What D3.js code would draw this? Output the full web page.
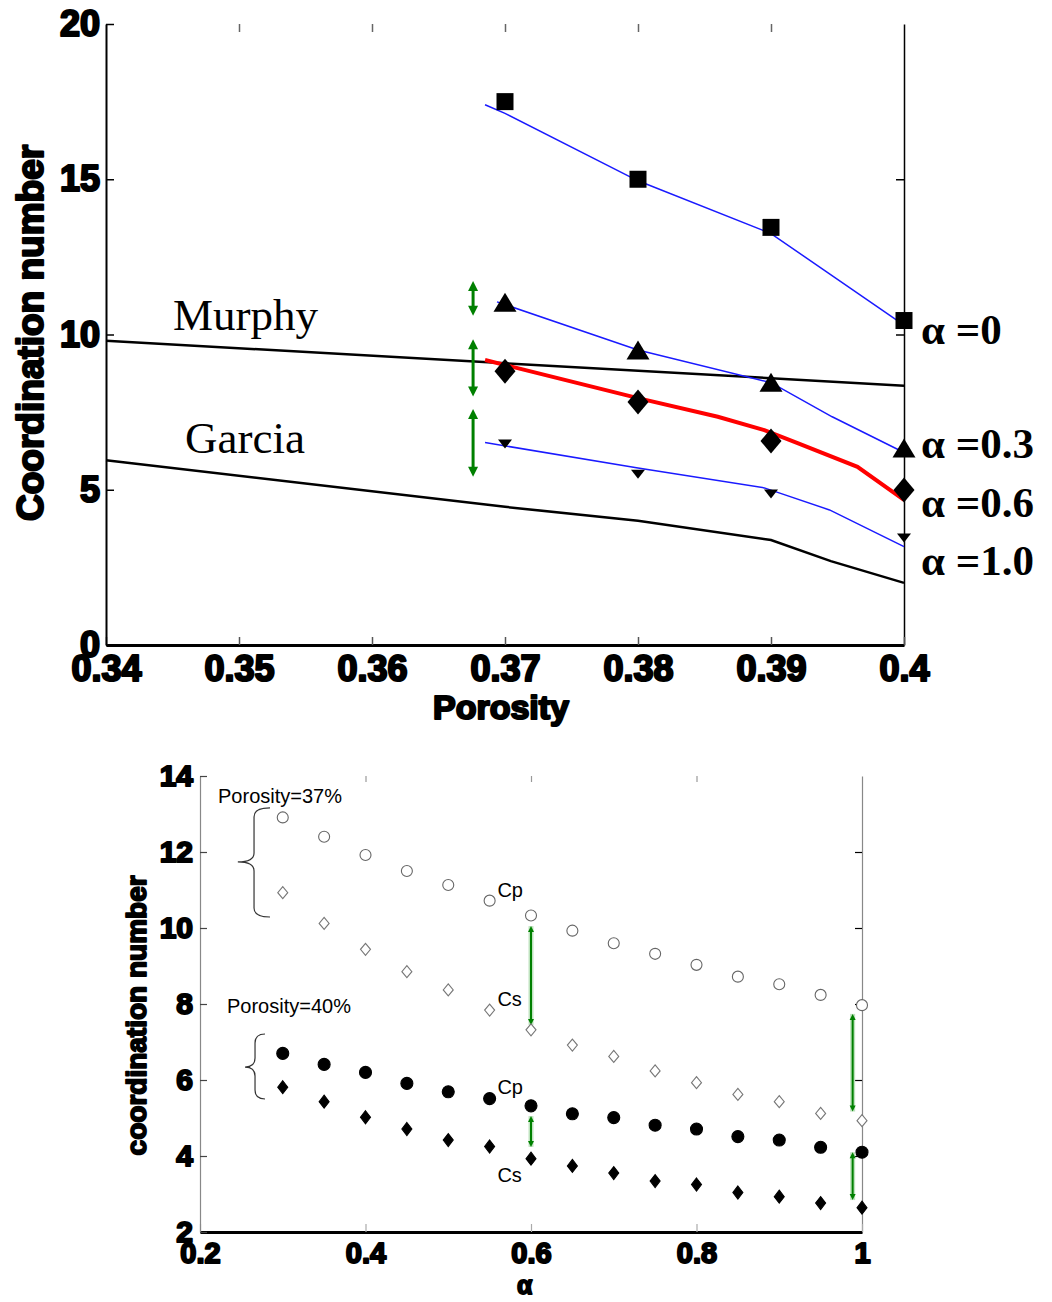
<!DOCTYPE html>
<html>
<head>
<meta charset="utf-8">
<script src="https://cdn.jsdelivr.net/npm/d3@7"></script>
<style>
body{margin:0;background:#fff;}
</style>
</head>
<body>
<div id="chart"></div>
<script>
// ---------- top panel: coordination number vs porosity ----------
var porosity=[0.37,0.38,0.39,0.40];
var cnAlpha0=[17.5,15.0,13.45,10.45];
var cnAlpha03=[10.98,9.44,8.4,6.28];
var cnAlpha06=[8.82,7.83,6.57,4.99];
var cnAlpha10=[6.47,5.5,4.86,3.45];

// fitted curves (blue / red)
var fit0X=[0.3685,0.37,0.38,0.39,0.40];
var fit0Y=[17.4,17.12,14.95,13.25,10.3];
var fit03X=[0.3694,0.38,0.39,0.3946,0.40];
var fit03Y=[11.05,9.5,8.45,7.35,6.2];
var fit06X=[0.3685,0.38,0.386,0.3895,0.392,0.3965,0.40];
var fit06Y=[9.18,7.95,7.35,6.92,6.5,5.74,4.67];
var fit10X=[0.3685,0.38,0.3895,0.3944,0.40];
var fit10Y=[6.52,5.7,5.06,4.35,3.17];

// Murphy / Garcia reference curves
var murphyX=[0.34,0.40];
var murphyY=[9.8,8.35];
var garciaX=[0.34,0.37,0.38,0.39,0.3945,0.40];
var garciaY=[5.95,4.45,4.0,3.38,2.7,2.0];

var topXTicks=[0.34,0.35,0.36,0.37,0.38,0.39,0.40];
var topXLabels=["0.34","0.35","0.36","0.37","0.38","0.39","0.4"];
var topYTicks=[0,5,10,15,20];
var topYLabels=["0","5","10","15","20"];

// green double arrows [x, yFrom, yTo]
var topArrows=[[0.3676,11.72,10.6],[0.3676,9.85,8.0],[0.3676,7.6,5.42]];

// ---------- bottom panel: coordination number vs alpha ----------
var alphas=[0.3,0.35,0.4,0.45,0.5,0.55,0.6,0.65,0.7,0.75,0.8,0.85,0.9,0.95,1.0];
var cp37=[12.91,12.4,11.92,11.5,11.13,10.72,10.33,9.93,9.6,9.32,9.03,8.72,8.52,8.24,7.97];
var cs37=[10.93,10.12,9.44,8.85,8.37,7.84,7.32,6.92,6.62,6.24,5.93,5.62,5.43,5.12,4.93];
var cp40=[6.7,6.41,6.2,5.91,5.69,5.51,5.32,5.11,5.01,4.81,4.71,4.51,4.42,4.23,4.1];
var cs40=[5.81,5.43,5.02,4.71,4.42,4.25,3.93,3.74,3.55,3.34,3.25,3.04,2.93,2.76,2.64];

var botXTicks=[0.2,0.4,0.6,0.8,1.0];
var botXLabels=["0.2","0.4","0.6","0.8","1"];
var botYTicks=[2,4,6,8,10,12,14];
var botYLabels=["2","4","6","8","10","12","14"];

var botArrows=[[0.6,10.05,7.45],[0.6,5.05,4.24],[0.9887,7.74,5.17],[0.9887,4.1,2.84]];

var W=1052,H=1302;
var svg=d3.select("#chart").append("svg")
    .attr("width",W)
    .attr("height",H)
    .style("font-family","'Liberation Sans', Arial, sans-serif");

var green="#008000";

function pts(xs,ys){
    return xs.map(function(x,i){return [x,ys[i]];});
}

// marker shapes centred at 0,0
function square(s){return "M"+(-s/2)+","+(-s/2)+"h"+s+"v"+s+"h"+(-s)+"Z";}
function triUp(w,h){return "M0,"+(-h*0.6)+"L"+(w/2)+","+(h*0.4)+"L"+(-w/2)+","+(h*0.4)+"Z";}
function triDown(w,h){return "M"+(-w/2)+","+(-h/2)+"L"+(w/2)+","+(-h/2)+"L0,"+(h/2)+"Z";}
function diamond(w,h){return "M0,"+(-h/2)+"L"+(w/2)+",0L0,"+(h/2)+"L"+(-w/2)+",0Z";}

function doubleArrow(g,x,y1,y2,hw,hh,lw){
    var y0=Math.min(y1,y2),yb=Math.max(y1,y2);
    g.append("line")
        .attr("x1",x).attr("x2",x)
        .attr("y1",y0+hh*0.8).attr("y2",yb-hh*0.8)
        .attr("stroke",green).attr("stroke-width",lw);
    g.append("path")
        .attr("d","M"+x+","+y0+"L"+(x+hw/2)+","+(y0+hh)+"L"+(x-hw/2)+","+(y0+hh)+"Z")
        .attr("fill",green);
    g.append("path")
        .attr("d","M"+x+","+yb+"L"+(x+hw/2)+","+(yb-hh)+"L"+(x-hw/2)+","+(yb-hh)+"Z")
        .attr("fill",green);
}

function braceD(xe,xs,xt,yt,ym,yb){
    var r=9;
    return "M"+xe+","+yt+
        "Q"+xs+","+yt+" "+xs+","+(yt+r)+
        "L"+xs+","+(ym-r)+
        "Q"+xs+","+ym+" "+xt+","+ym+
        "Q"+xs+","+ym+" "+xs+","+(ym+r)+
        "L"+xs+","+(yb-r)+
        "Q"+xs+","+yb+" "+xe+","+yb;
}

// heavy sans text, like the thick labels of the original
function heavy(sel,size,sw){
    sel.attr("font-size",size).attr("font-weight","bold")
        .attr("fill","#000").attr("stroke","#000").attr("stroke-width",sw)
        .attr("stroke-linejoin","round")
        .style("font-family","'Liberation Sans', Arial, sans-serif");
}

// ================= TOP PANEL =================
var xTop=d3.scaleLinear().domain([0.34,0.40]).range([106,904]);
var yTop=d3.scaleLinear().domain([0,20]).range([645,24]);

var topG=svg.append("g");

// top edge ticks (no line)
var axTopEdge=topG.append("g")
    .attr("transform","translate(0,24)")
    .call(d3.axisTop(xTop).tickValues(topXTicks.slice(1,6)).tickSize(-8).tickFormat(""));
axTopEdge.select(".domain").remove();
axTopEdge.selectAll("line").attr("stroke","#666").attr("stroke-width",1.5);

// right axis
var axRight=topG.append("g")
    .attr("transform","translate(904,0)")
    .call(d3.axisRight(yTop).tickValues([5,10,15]).tickSize(-8).tickSizeOuter(0).tickFormat(""));
axRight.select(".domain").attr("stroke","#000").attr("stroke-width",1.5);
axRight.selectAll("line").attr("stroke","#000").attr("stroke-width",1.5);

// bottom axis
var axBot=topG.append("g")
    .attr("transform","translate(0,645)")
    .call(d3.axisBottom(xTop).tickValues(topXTicks).tickSize(-8).tickSizeOuter(0).tickPadding(10)
        .tickFormat(function(d,i){return topXLabels[i];}));
axBot.select(".domain").attr("stroke","#000").attr("stroke-width",3);
axBot.selectAll("line").attr("stroke","#555").attr("stroke-width",1.5);
heavy(axBot.selectAll("text"),36,2.2);

// left axis
var axLeft=topG.append("g")
    .attr("transform","translate(106,0)")
    .call(d3.axisLeft(yTop).tickValues(topYTicks).tickSize(-8).tickSizeOuter(0).tickPadding(6)
        .tickFormat(function(d,i){return topYLabels[i];}));
axLeft.select(".domain").attr("stroke","#000").attr("stroke-width",2);
axLeft.selectAll("line").attr("stroke","#000").attr("stroke-width",1.5);
heavy(axLeft.selectAll("text"),36,2.2);

// axis titles
heavy(topG.append("text")
    .text("Porosity")
    .attr("x",xTop(0.3697)).attr("y",719)
    .attr("text-anchor","middle"),34,2.2);
heavy(topG.append("text")
    .text("Coordination number")
    .attr("transform","translate(43,"+yTop(10.05)+") rotate(-90)")
    .attr("text-anchor","middle"),37,2.2);

var line=d3.line()
    .x(function(d){return xTop(d[0]);})
    .y(function(d){return yTop(d[1]);});

// Murphy and Garcia
topG.append("path").datum(pts(murphyX,murphyY)).attr("d",line)
    .attr("fill","none").attr("stroke","#000").attr("stroke-width",2.5);
topG.append("path").datum(pts(garciaX,garciaY)).attr("d",line)
    .attr("fill","none").attr("stroke","#000").attr("stroke-width",2.5);

// fits
[[fit0X,fit0Y],[fit03X,fit03Y],[fit10X,fit10Y]].forEach(function(f){
    topG.append("path").datum(pts(f[0],f[1])).attr("d",line)
        .attr("fill","none").attr("stroke","#1a1aff").attr("stroke-width",1.5);
});
topG.append("path").datum(pts(fit06X,fit06Y)).attr("d",line)
    .attr("fill","none").attr("stroke","#ff0000").attr("stroke-width",4);

// markers
var topSeries=[
    {vals:cnAlpha0,shape:square(17)},
    {vals:cnAlpha03,shape:triUp(23,19)},
    {vals:cnAlpha06,shape:diamond(21,25)},
    {vals:cnAlpha10,shape:triDown(14,9)}
];
topSeries.forEach(function(s){
    topG.selectAll(null)
        .data(pts(porosity,s.vals))
        .enter().append("path")
        .attr("d",s.shape)
        .attr("transform",function(d){return "translate("+xTop(d[0])+","+yTop(d[1])+")";})
        .attr("fill","#000");
});

// green arrows
topArrows.forEach(function(a){
    doubleArrow(topG,xTop(a[0]),yTop(a[1]),yTop(a[2]),10,10,3);
});

// labels
topG.append("text").text("Murphy")
    .attr("x",xTop(0.34504)).attr("y",yTop(10.14))
    .attr("font-size",45).style("font-family","'Liberation Serif','Times New Roman',serif");
topG.append("text").text("Garcia")
    .attr("x",xTop(0.34594)).attr("y",yTop(6.18))
    .attr("font-size",45).style("font-family","'Liberation Serif','Times New Roman',serif");

var alphaLabels=["\u03b1 =0","\u03b1 =0.3","\u03b1 =0.6","\u03b1 =1.0"];
var alphaLabelY=[9.69,6.02,4.12,2.25];
alphaLabels.forEach(function(t,i){
    topG.append("text").text(t)
        .attr("x",xTop(0.40128)).attr("y",yTop(alphaLabelY[i]))
        .attr("font-size",43).attr("font-weight","bold")
        .style("font-family","'Liberation Serif','Times New Roman',serif");
});

// ================= BOTTOM PANEL =================
var xBot=d3.scaleLinear().domain([0.2,1.0]).range([200,862]);
var yBot=d3.scaleLinear().domain([2,14]).range([1232,776]);

var botG=svg.append("g");

var bTop=botG.append("g")
    .attr("transform","translate(0,776)")
    .call(d3.axisTop(xBot).tickValues([0.4,0.6,0.8]).tickSize(-6).tickFormat(""));
bTop.select(".domain").remove();
bTop.selectAll("line").attr("stroke","#999").attr("stroke-width",1.2);

var bRight=botG.append("g")
    .attr("transform","translate(862,0)")
    .call(d3.axisRight(yBot).tickValues([4,6,8,10,12]).tickSize(-7).tickSizeOuter(0).tickFormat(""));
bRight.select(".domain").attr("stroke","#888").attr("stroke-width",1.2);
bRight.selectAll("line").attr("stroke","#000").attr("stroke-width",1.2);

var bBot=botG.append("g")
    .attr("transform","translate(0,1232)")
    .call(d3.axisBottom(xBot).tickValues(botXTicks).tickSize(-8).tickSizeOuter(0).tickPadding(10)
        .tickFormat(function(d,i){return botXLabels[i];}));
bBot.select(".domain").attr("stroke","#000").attr("stroke-width",3);
bBot.selectAll("line").attr("stroke","#aaa").attr("stroke-width",1.2);
heavy(bBot.selectAll("text"),29,2);

var bLeft=botG.append("g")
    .attr("transform","translate(200,0)")
    .call(d3.axisLeft(yBot).tickValues(botYTicks).tickSize(-7).tickSizeOuter(0).tickPadding(7)
        .tickFormat(function(d,i){return botYLabels[i];}));
bLeft.select(".domain").attr("stroke","#888").attr("stroke-width",1.2);
bLeft.selectAll("line").attr("stroke","#444").attr("stroke-width",1.2);
heavy(bLeft.selectAll("text"),30,2);

heavy(botG.append("text").text("\u03b1")
    .attr("x",xBot(0.5925)).attr("y",1294)
    .attr("text-anchor","middle"),25,1.8);
heavy(botG.append("text").text("coordination number")
    .attr("transform","translate(146,"+yBot(7.7)+") rotate(-90)")
    .attr("text-anchor","middle"),28,1.8);

// green arrows (with light halo)
botArrows.forEach(function(a){
    var x=xBot(a[0]);
    botG.append("line")
        .attr("x1",x).attr("x2",x)
        .attr("y1",yBot(a[1])).attr("y2",yBot(a[2]))
        .attr("stroke","#bfe3bf").attr("stroke-width",5);
    doubleArrow(botG,x,yBot(a[1]),yBot(a[2]),6,6,2);
});

// markers
var botSeries=[
    {vals:cp37,kind:"circle",fill:"none",stroke:"#666"},
    {vals:cs37,kind:"diamond",fill:"none",stroke:"#777"},
    {vals:cp40,kind:"circle",fill:"#000",stroke:"#000"},
    {vals:cs40,kind:"diamond",fill:"#000",stroke:"#000"}
];
botSeries.forEach(function(s){
    var sel=botG.selectAll(null).data(pts(alphas,s.vals)).enter();
    if(s.kind==="circle"){
        sel.append("circle")
            .attr("cx",function(d){return xBot(d[0]);})
            .attr("cy",function(d){return yBot(d[1]);})
            .attr("r",s.fill==="none"?5.5:6)
            .attr("fill",s.fill==="none"?"#fff":s.fill)
            .attr("stroke",s.stroke).attr("stroke-width",1.1);
    }else{
        sel.append("path")
            .attr("d",s.fill==="none"?diamond(10,12):diamond(10,13))
            .attr("transform",function(d){return "translate("+xBot(d[0])+","+yBot(d[1])+")";})
            .attr("fill",s.fill==="none"?"#fff":s.fill)
            .attr("stroke",s.stroke).attr("stroke-width",1.1);
    }
});

// braces and annotations
botG.append("path")
    .attr("d",braceD(xBot(0.2846),xBot(0.2653),xBot(0.2457),yBot(13.16),yBot(11.74),yBot(10.29)))
    .attr("fill","none").attr("stroke","#333").attr("stroke-width",1.2);
botG.append("path")
    .attr("d",braceD(xBot(0.2786),xBot(0.2665),xBot(0.2544),yBot(7.21),yBot(6.34),yBot(5.5)))
    .attr("fill","none").attr("stroke","#333").attr("stroke-width",1.2);

botG.append("text").text("Porosity=37%")
    .attr("x",xBot(0.2218)).attr("y",yBot(13.29))
    .attr("font-size",20);
botG.append("text").text("Porosity=40%")
    .attr("x",xBot(0.2326)).attr("y",yBot(7.76))
    .attr("font-size",20);

var cLabels=["Cp","Cs","Cp","Cs"];
var cLabelY=[10.82,7.95,5.63,3.32];
cLabels.forEach(function(t,i){
    botG.append("text").text(t)
        .attr("x",xBot(0.5594)).attr("y",yBot(cLabelY[i]))
        .attr("font-size",20);
});
</script>
</body>
</html>
